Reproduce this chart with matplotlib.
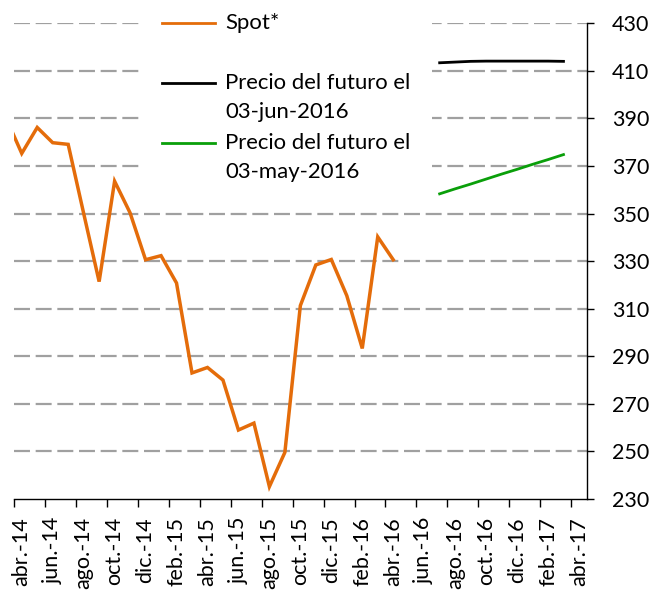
import matplotlib
matplotlib.use("Agg")
import matplotlib.pyplot as plt
from matplotlib.lines import Line2D
from matplotlib.patches import Rectangle

plt.rcParams['font.family'] = ['Lato', 'DejaVu Sans']
plt.rcParams['lines.scale_dashes'] = False

# month index: 0 = abr.-14
spot_months = list(range(-1, 25))
spot_values = [390.0, 375.3, 386.2, 379.8, 379.1, 350.1, 321.4, 363.6, 350.3,
               330.6, 332.3, 320.8, 283.0, 285.3, 280.0, 259.0, 261.9, 235.2,
               249.6, 311.3, 328.4, 330.7, 315.5, 293.3, 340.2, 330.6]

fut_months = list(range(27, 36))
fut_jun = [413.4, 413.7, 414.0, 414.1, 414.1, 414.1, 414.1, 414.1, 414.0]
fut_may = [358.3, 360.4, 362.4, 364.5, 366.6, 368.6, 370.7, 372.7, 374.8]

tick_labels = ['abr.-14', 'jun.-14', 'ago.-14', 'oct.-14', 'dic.-14',
               'feb.-15', 'abr.-15', 'jun.-15', 'ago.-15', 'oct.-15',
               'dic.-15', 'feb.-16', 'abr.-16', 'jun.-16', 'ago.-16',
               'oct.-16', 'dic.-16', 'feb.-17', 'abr.-17']
tick_pos = list(range(0, 37, 2))

legend_labels = ['Spot*', 'Precio del futuro el\n03-jun-2016',
                 'Precio del futuro el\n03-may-2016']

ORANGE = '#E46C0A'
GREEN = '#0A9F0A'
BLACK = '#000000'

fig = plt.figure(figsize=(6.56, 5.94), dpi=100)
ax = fig.add_axes([14/656, 1-499/594, 572.7/656, 475.7/594])

ax.set_xlim(-0.5, 36.5)
ax.set_ylim(230, 430)

# gridlines
for v in range(250, 431, 20):
    ax.axhline(v, color='#A0A0A0', lw=1.6, ls=(0, (11.5, 4.1)), zorder=1)

# legend background (white box hiding gridlines)
ax.add_patch(Rectangle((0.22, 0.65), 0.51, 0.4, transform=ax.transAxes,
                       facecolor='white', edgecolor='none', zorder=2,
                       clip_on=False))

ax.plot(spot_months, spot_values, color=ORANGE, lw=2.5, zorder=3,
        solid_joinstyle='miter')
ax.plot(fut_months, fut_jun, color=BLACK, lw=2.0, zorder=3)
ax.plot(fut_months, fut_may, color=GREEN, lw=2.0, zorder=3)

# spines
for s in ['left', 'top']:
    ax.spines[s].set_visible(False)
for s in ['bottom', 'right']:
    ax.spines[s].set_linewidth(1.0)
    ax.spines[s].set_color('black')

ax.yaxis.tick_right()
ax.set_yticks(range(230, 431, 20))
ax.tick_params(axis='y', which='major', direction='out', length=5, width=1.0,
               pad=13, labelsize=15.5)

ax.set_xticks(tick_pos)
ax.set_xticklabels(tick_labels, rotation=90, fontsize=15.5)
ax.set_xticks([p - 0.5 for p in tick_pos], minor=True)
ax.tick_params(axis='x', which='major', length=0, pad=13)
ax.tick_params(axis='x', which='minor', direction='out', length=5.5, width=1.0)

# manual legend
rows = [(1.0006, [legend_labels[0]], ORANGE),
        (0.8745, legend_labels[1].split('\n'), BLACK),
        (0.7484, legend_labels[2].split('\n'), GREEN)]
line_dy = 0.061
for y, lines, col in rows:
    ax.add_line(Line2D([0.2584, 0.3510], [y, y], transform=ax.transAxes,
                       color=col, lw=2.0, clip_on=False, zorder=4))
    for k, t in enumerate(lines):
        ax.text(0.3684, y - k*line_dy, t, transform=ax.transAxes,
                ha='left', va='center', fontsize=15.9, zorder=4,
                clip_on=False)

fig.savefig('out.png', dpi=100)
